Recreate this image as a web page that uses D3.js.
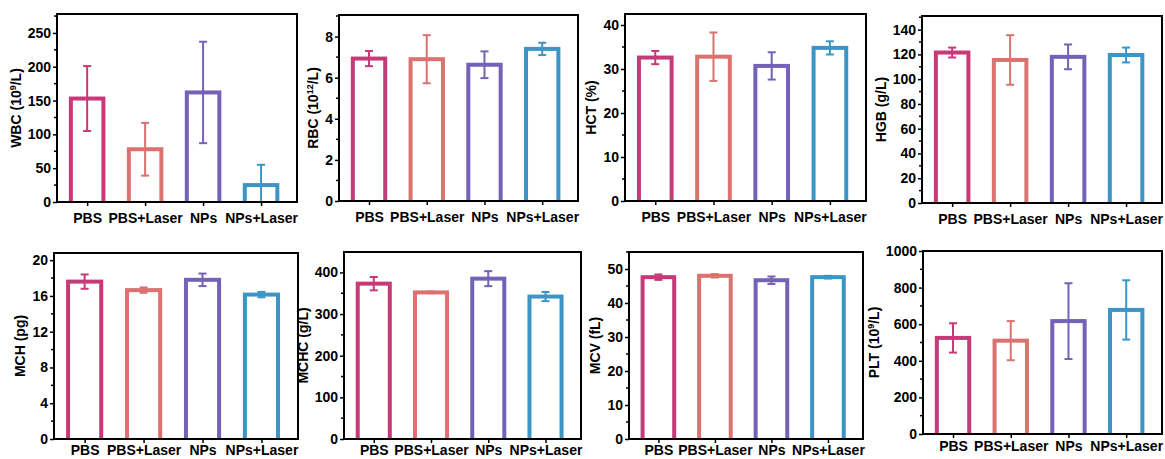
<!DOCTYPE html>
<html>
<head>
<meta charset="utf-8">
<script src="https://cdn.jsdelivr.net/npm/d3@7"></script>
<style>
  body { margin: 0; background: #fff; }
  svg { display: block; font-family: "Liberation Sans", Arial, sans-serif; font-weight: bold; }
</style>
</head>
<body>
<script>
// groups and colours
const groups = ['PBS', 'PBS+Laser', 'NPs', 'NPs+Laser'];
const groupColors = ['#C73A78', '#DB726F', '#7462B6', '#3C95C5'];

// mean / sd
const wbcMean = [153, 78, 162, 25];
const wbcErr = [48, 39, 75, 30];
const rbcMean = [6.93, 6.9, 6.63, 7.4];
const rbcErr = [0.37, 1.17, 0.65, 0.3];
const hctMean = [32.6, 32.8, 30.7, 34.8];
const hctErr = [1.5, 5.5, 3.1, 1.5];
const hgbMean = [121.5, 115.5, 118, 119.5];
const hgbErr = [4, 20, 10, 6];
const mchMean = [17.6, 16.65, 17.8, 16.15];
const mchErr = [0.8, 0.3, 0.7, 0.3];
const mchcMean = [373, 352, 385, 342];
const mchcErr = [16, 2, 18, 11];
const mcvMean = [47.6, 48.0, 46.7, 47.6];
const mcvErr = [0.8, 0.5, 1.1, 0.4];
const pltMean = [525, 510, 617, 678];
const pltErr = [80, 107, 207, 162];

// y axis tick labels
const wbcTicks = [0, 50, 100, 150, 200, 250];
const rbcTicks = [0, 2, 4, 6, 8];
const hctTicks = [0, 10, 20, 30, 40];
const hgbTicks = [0, 20, 40, 60, 80, 100, 120, 140];
const mchTicks = [0, 4, 8, 12, 16, 20];
const mchcTicks = [0, 100, 200, 300, 400];
const mcvTicks = [0, 10, 20, 30, 40, 50];
const pltTicks = [0, 200, 400, 600, 800, 1000];

const W = 1165, H = 459;
const svg = d3.select('body').append('svg')
  .attr('width', W)
  .attr('height', H);

const panels = [
  { title: ['WBC (10', '9', '/L)'], mean: wbcMean, err: wbcErr, ticks: wbcTicks, ymax: 278, minor: 25,
    box: [57, 14, 297, 202], pad: 7 },
  { title: ['RBC (10', '12', '/L)'], mean: rbcMean, err: rbcErr, ticks: rbcTicks, ymax: 9.05, minor: 1,
    box: [339, 15, 578, 201], pad: 7 },
  { title: ['HCT (%)'], mean: hctMean, err: hctErr, ticks: hctTicks, ymax: 42.5, minor: 5,
    box: [625, 14, 866, 201], pad: 7 },
  { title: ['HGB (g/L)'], mean: hgbMean, err: hgbErr, ticks: hgbTicks, ymax: 151, minor: 10,
    box: [922, 16, 1162, 203], pad: 7 },
  { title: ['MCH (pg)'], mean: mchMean, err: mchErr, ticks: mchTicks, ymax: 20.8, minor: 2,
    box: [54, 253, 298, 439], pad: 2 },
  { title: ['MCHC (g/L)'], mean: mchcMean, err: mchcErr, ticks: mchcTicks, ymax: 449, minor: 50,
    box: [344, 252, 581, 439], pad: 2 },
  { title: ['MCV (fL)'], mean: mcvMean, err: mcvErr, ticks: mcvTicks, ymax: 55, minor: 5,
    box: [629, 252, 863, 439], pad: 2 },
  { title: ['PLT (10', '9', '/L)'], mean: pltMean, err: pltErr, ticks: pltTicks, ymax: 1000, minor: 100,
    box: [923, 251, 1162, 434], pad: 3 }
];

panels.forEach((p, pi) => {
  const [x0, y0, x1, y1] = p.box;
  const g = svg.append('g');

  const x = d3.scaleLinear().domain([0.48, 4.62]).range([x0, x1]);
  const y = d3.scaleLinear().domain([0, p.ymax]).range([y1, y0]);
  const step = x(2) - x(1);
  const sw = 4;
  const bw = step * 0.63 - sw;

  const clipId = 'clip' + pi;
  g.append('clipPath').attr('id', clipId)
    .append('rect').attr('x', x0).attr('y', y0).attr('width', x1 - x0).attr('height', y1 - y0);

  const data = groups.map((name, i) => ({ name, i, mean: p.mean[i], err: p.err[i] }));

  // bars (outline only)
  g.append('g').attr('clip-path', `url(#${clipId})`)
    .selectAll('rect')
    .data(data)
    .enter().append('rect')
    .attr('x', d => x(d.i + 1) - bw / 2)
    .attr('y', d => y(d.mean))
    .attr('width', bw)
    .attr('height', d => y(0) - y(d.mean) + sw)
    .attr('fill', '#fff')
    .attr('stroke', (d, i) => groupColors[i])
    .attr('stroke-width', sw);

  // error bars
  const eb = g.append('g').attr('clip-path', `url(#${clipId})`)
    .selectAll('g')
    .data(data)
    .enter().append('g')
    .attr('stroke', (d, i) => groupColors[i])
    .attr('stroke-width', 2);
  eb.append('line')
    .attr('x1', d => x(d.i + 1)).attr('x2', d => x(d.i + 1))
    .attr('y1', d => y(d.mean - d.err)).attr('y2', d => y(d.mean + d.err));
  eb.append('line')
    .attr('x1', d => x(d.i + 1) - 4).attr('x2', d => x(d.i + 1) + 4)
    .attr('y1', d => y(d.mean + d.err)).attr('y2', d => y(d.mean + d.err));
  eb.append('line')
    .attr('x1', d => x(d.i + 1) - 4).attr('x2', d => x(d.i + 1) + 4)
    .attr('y1', d => y(d.mean - d.err)).attr('y2', d => y(d.mean - d.err));

  // minor ticks on y
  const minorVals = d3.range(0, p.ymax + 1e-9, p.minor).filter(v => !p.ticks.includes(v));
  g.append('g')
    .selectAll('line')
    .data(minorVals)
    .enter().append('line')
    .attr('x1', x0 - 3).attr('x2', x0)
    .attr('y1', d => y(d)).attr('y2', d => y(d))
    .attr('stroke', '#000').attr('stroke-width', 1.5);

  // y axis
  const yAxis = g.append('g')
    .attr('transform', `translate(${x0},0)`)
    .call(d3.axisLeft(y).tickValues(p.ticks).tickSize(4).tickPadding(2).tickFormat(d3.format('d')));
  yAxis.select('.domain').remove();
  yAxis.selectAll('line').attr('stroke', '#000').attr('stroke-width', 1.5);
  yAxis.selectAll('text').attr('fill', '#000').style('font-size', '14px').style('font-weight', 'bold')
    .style('font-family', '"Liberation Sans", Arial, sans-serif');

  // x axis
  const xAxis = g.append('g')
    .attr('transform', `translate(0,${y1})`)
    .call(d3.axisBottom(x).tickValues([1, 2, 3, 4]).tickSize(4).tickPadding(p.pad)
      .tickFormat(d => groups[d - 1]));
  xAxis.select('.domain').remove();
  xAxis.selectAll('line').attr('stroke', '#000').attr('stroke-width', 1.5);
  xAxis.selectAll('text').attr('fill', '#000').style('font-size', '14px').style('font-weight', 'bold')
    .style('font-family', '"Liberation Sans", Arial, sans-serif');

  // frame
  g.append('rect')
    .attr('x', x0).attr('y', y0)
    .attr('width', x1 - x0).attr('height', y1 - y0)
    .attr('fill', 'none')
    .attr('stroke', '#000')
    .attr('stroke-width', 2);

  // y title
  const bb = yAxis.node().getBBox();
  const tx = x0 + bb.x - 7;
  const ty = (y0 + y1) / 2;
  const t = g.append('text')
    .attr('transform', `translate(${tx},${ty}) rotate(-90)`)
    .attr('text-anchor', 'middle')
    .style('font-size', '14px')
    .attr('fill', '#000');
  t.append('tspan').text(p.title[0]);
  if (p.title.length > 1) {
    t.append('tspan').attr('dy', -5).style('font-size', '9px').text(p.title[1]);
    t.append('tspan').attr('dy', 5).text(p.title[2]);
  }
});
</script>
</body>
</html>
